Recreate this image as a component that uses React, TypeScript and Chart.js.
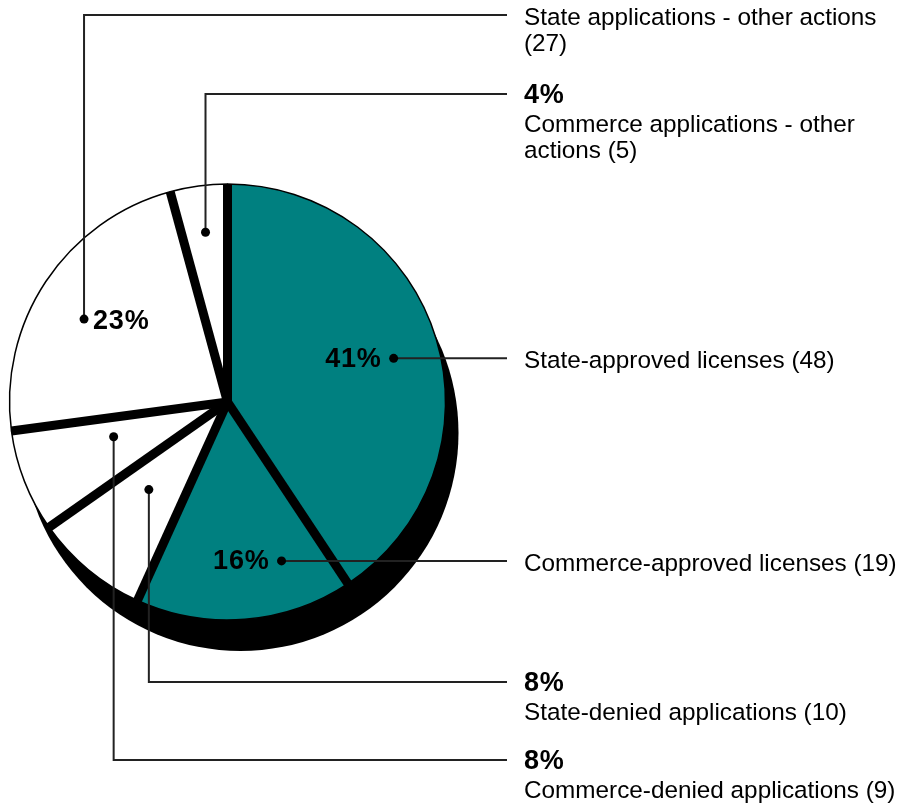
import React, { useEffect, useRef } from "react";
import { Chart, registerables } from "chart.js";

Chart.register(...registerables);

// ---- data ----
const categories = [
  "State-approved licenses",
  "Commerce-approved licenses",
  "State-denied applications",
  "Commerce-denied applications",
  "State applications - other actions",
  "Commerce applications - other actions",
];
const counts = [48, 19, 10, 9, 27, 5];
const sliceColors = ["#008080", "#008080", "#ffffff", "#ffffff", "#ffffff", "#ffffff"];

// ---- annotation layout (positions / styles only) ----
const leaderLayout = [
  { angleFrac: 0.514, radiusFrac: 0.788, elbowY: null, pctMode: "inLeft" },
  { angleFrac: 0.255, radiusFrac: 0.77, elbowY: null, pctMode: "inLeft" },
  { angleFrac: 0.574, radiusFrac: 0.54, elbowY: 682, pctMode: "out" },
  { angleFrac: 0.66, radiusFrac: 0.546, elbowY: 760, pctMode: "out" },
  { angleFrac: 0.457, radiusFrac: 0.76, elbowY: 15, pctMode: "inRight" },
  { angleFrac: 0.516, radiusFrac: 0.785, elbowY: 94, pctMode: "out" },
];

const FONT = "'Liberation Sans', Arial, Helvetica, sans-serif";
const TEXT_X = 524;
const LEADER_END_X = 507;
const SHADOW_DX = 13;
const SHADOW_DY = 31;

function wrapText(ctx: CanvasRenderingContext2D, text: string, maxWidth: number): string[] {
  const words = text.split(" ");
  const lines: string[] = [];
  let cur = "";
  for (const w of words) {
    const test = cur ? cur + " " + w : w;
    if (ctx.measureText(test).width > maxWidth && cur) {
      lines.push(cur);
      cur = w;
    } else {
      cur = test;
    }
  }
  if (cur) lines.push(cur);
  return lines;
}

function setSpacing(ctx: any, px: number) {
  if ("letterSpacing" in ctx) ctx.letterSpacing = px + "px";
}

const decorPlugin = {
  id: "pieDecor",
  beforeDatasetsDraw(chart: any) {
    const ctx = chart.ctx as CanvasRenderingContext2D;
    const meta = chart.getDatasetMeta(0);
    const a0 = meta.data[0] as any;
    ctx.save();
    ctx.fillStyle = "#000";
    ctx.beginPath();
    ctx.arc(a0.x + SHADOW_DX, a0.y + SHADOW_DY, a0.outerRadius, 0, Math.PI * 2);
    ctx.fill();
    ctx.restore();
  },
  afterDatasetsDraw(chart: any) {
    const ctx = chart.ctx as CanvasRenderingContext2D;
    const meta = chart.getDatasetMeta(0);
    const arcs = meta.data as any[];
    const total = counts.reduce((s, v) => s + v, 0);

    // thick separators between slices
    ctx.save();
    ctx.strokeStyle = "#000";
    ctx.lineWidth = 9;
    ctx.lineCap = "butt";
    arcs.forEach((arc) => {
      const { x, y, startAngle, outerRadius } = arc;
      ctx.beginPath();
      ctx.moveTo(x, y);
      ctx.lineTo(x + outerRadius * Math.cos(startAngle), y + outerRadius * Math.sin(startAngle));
      ctx.stroke();
    });
    ctx.restore();

    // leaders and labels
    arcs.forEach((arc, i) => {
      const lay = leaderLayout[i];
      const { x, y, startAngle, endAngle, outerRadius } = arc;
      const ang = startAngle + lay.angleFrac * (endAngle - startAngle);
      const r = outerRadius * lay.radiusFrac;
      const dx = x + r * Math.cos(ang);
      const dy = y + r * Math.sin(ang);
      const pct = Math.round((counts[i] / total) * 100) + "%";

      ctx.save();
      ctx.strokeStyle = "#222";
      ctx.lineWidth = 2;
      ctx.beginPath();
      ctx.moveTo(dx, dy);
      let lineY = dy;
      if (lay.elbowY !== null) {
        lineY = lay.elbowY;
        ctx.lineTo(dx, lineY);
      }
      ctx.lineTo(LEADER_END_X, lineY);
      ctx.stroke();

      ctx.fillStyle = "#000";
      ctx.beginPath();
      ctx.arc(dx, dy, 4.5, 0, Math.PI * 2);
      ctx.fill();

      ctx.textBaseline = "middle";
      ctx.font = "bold 27px " + FONT;
      setSpacing(ctx, 0.8);
      if (lay.pctMode === "inLeft") {
        ctx.textAlign = "right";
        ctx.fillText(pct, dx - 12, dy + 1);
      } else if (lay.pctMode === "inRight") {
        ctx.textAlign = "left";
        ctx.fillText(pct, dx + 9, dy + 2);
      }

      // right-hand column
      ctx.textAlign = "left";
      let ty = lineY + 3;
      if (lay.pctMode === "out") {
        ctx.font = "bold 27px " + FONT;
        setSpacing(ctx, 0.8);
        ctx.fillText(pct, TEXT_X, ty - 1);
        ty += 28;
      }
      ctx.font = "24.3px " + FONT;
      setSpacing(ctx, 0);
      const lines = wrapText(ctx, categories[i] + " (" + counts[i] + ")", 382);
      lines.forEach((ln) => {
        ctx.fillText(ln, TEXT_X, ty);
        ty += 26;
      });
      ctx.restore();
    });
  },
};

export default function App() {
  const ref = useRef<HTMLCanvasElement>(null);
  useEffect(() => {
    document.body.style.margin = "0";
    const chart = new Chart(ref.current as HTMLCanvasElement, {
      type: "pie",
      data: {
        labels: categories,
        datasets: [
          {
            data: counts,
            backgroundColor: sliceColors,
            borderColor: "#000",
            borderWidth: 1.5,
            radius: 218,
          } as any,
        ],
      },
      options: {
        responsive: false,
        animation: false,
        devicePixelRatio: 1,
        events: [],
        layout: { padding: { left: 0, right: 457, top: 184, bottom: 184 } },
        plugins: { legend: { display: false }, tooltip: { enabled: false } },
      },
      plugins: [decorPlugin as any],
    });
    return () => chart.destroy();
  }, []);
  return (
    <div style={{ width: 912, height: 804, overflow: "hidden" }}>
      <canvas ref={ref} width={912} height={804} style={{ display: "block" }} />
    </div>
  );
}
